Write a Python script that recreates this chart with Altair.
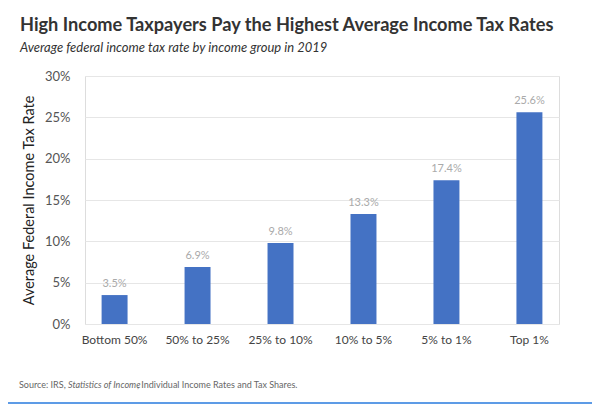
import altair as alt
import pandas as pd

groups = ["Bottom 50%", "50% to 25%", "25% to 10%", "10% to 5%", "5% to 1%", "Top 1%"]
rates = [3.5, 6.9, 9.8, 13.3, 17.4, 25.6]
y_ticks = [0, 5, 10, 15, 20, 25, 30]
source_parts = ["Source: IRS,", "Statistics of Income", ", Individual Income Rates and Tax Shares."]

FONT = "Lato"

df = pd.DataFrame({
    "group": groups,
    "rate": [r / 100 for r in rates],
    "label": [f"{r}%" for r in rates],
})

x = alt.X(
    "group:N", sort=groups, title=None,
    scale=alt.Scale(paddingInner=0.687, paddingOuter=0.2),
    axis=alt.Axis(labelAngle=0, labelFontSize=12, labelColor="#444", ticks=False,
                  domain=False, labelPadding=10, labelFont=FONT, grid=False),
)
y = alt.Y(
    "rate:Q", scale=alt.Scale(domain=[0, 0.3]),
    axis=alt.Axis(values=[t / 100 for t in y_ticks], format=".0%",
                  title="Average Federal Income Tax Rate", titleFontSize=14.5,
                  titleColor="#222", titleFontWeight="normal", titleFont=FONT,
                  labelFontSize=13, labelColor="#555", labelFont=FONT, ticks=False,
                  domain=False, gridColor="#e6e6e6", labelPadding=15, titlePadding=8),
)

base = alt.Chart(df)
bars = base.mark_bar(color="#4472C4").encode(x=x, y=y)
labels = base.mark_text(dy=-11, fontSize=11, color="#aaa", font=FONT).encode(
    x=alt.X("group:N", sort=groups), y="rate:Q", text="label:N")

def src(i, xpos, style):
    return alt.Chart(pd.DataFrame({"t": [source_parts[i]]})).mark_text(
        align="left", baseline="middle", fontSize=9, color="#666", font=FONT,
        fontStyle=style,
    ).encode(text="t:N", x=alt.value(xpos), y=alt.value(309))

s1 = src(0, -66, "normal")
s2 = src(1, -17, "italic")
s3 = src(2, 52, "normal")

line = alt.Chart(pd.DataFrame({"a": [0]})).mark_rule(color="#5d9be6", strokeWidth=2).encode(
    x=alt.value(-85), x2=alt.value(515), y=alt.value(327))

chart = alt.layer(bars, labels, s1, s2, s3, line).properties(
    width=474, height=248,
    title=alt.TitleParams(
        text="High Income Taxpayers Pay the Highest Average Income Tax Rates",
        subtitle="Average federal income tax rate by income group in 2019",
        anchor="start", frame="group", dx=-65, offset=14, font=FONT, fontSize=18.2,
        fontWeight="bold", color="#333", subtitleFont=FONT, subtitleFontStyle="italic",
        subtitleFontSize=13, subtitleColor="#333", subtitlePadding=7,
    ),
    autosize=alt.AutoSizeParams(type="none"),
    padding={"left": 77, "top": 68, "right": 33, "bottom": 81},
).configure_view(stroke=None).configure(background="white")

chart.save("out.html", embed_options={"renderer": "svg", "actions": False})
